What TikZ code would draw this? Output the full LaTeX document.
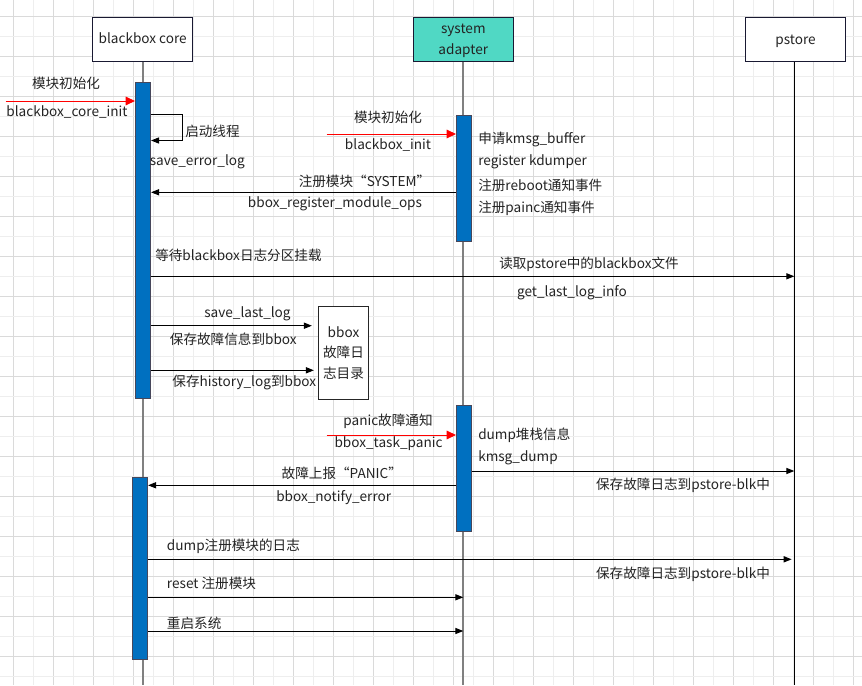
\documentclass[tikz,border=0pt]{standalone}
\usepackage{fontspec}
\setmainfont{Noto Sans CJK SC}
\usetikzlibrary{arrows.meta}
\definecolor{barblue}{RGB}{0,112,192}
\definecolor{adteal}{RGB}{80,216,196}
\definecolor{boxline}{RGB}{25,25,50}
\definecolor{txt}{RGB}{35,35,35}
\definecolor{gridminor}{RGB}{238,238,238}
\definecolor{gridmajor}{RGB}{218,218,218}
\definecolor{lifegray}{RGB}{128,128,128}
\tikzset{
  hdr/.style={draw=boxline, line width=0.9pt, minimum width=75pt, minimum height=33pt, inner sep=0pt, align=center},
  actbar/.style={draw=boxline!80, line width=0.6pt, fill=barblue, minimum width=11.5pt, inner sep=0pt},
  lbl/.style={inner sep=0pt, text=txt},
  life/.style={draw=lifegray, line width=1.5pt},
  msg/.style={draw=black, line width=0.75pt, -{Triangle[length=6pt,width=4.6pt]}},
  redmsg/.style={draw=red, line width=0.75pt, -{Triangle[length=7pt,width=6.5pt,fill=red]}},
}
\begin{document}
\begin{tikzpicture}[x=0.75pt, y=-0.75pt, font=\fontsize{10.2}{15.3}\selectfont]
\useasboundingbox (0,0) rectangle (862,685);
\fill[white] (0,0) rectangle (862,685);
% grid
\foreach \i in {0,...,42} {
  \pgfmathsetmacro{\gx}{13.5+20*\i}
  \pgfmathtruncatemacro{\odd}{mod(\i,2)}
  \ifnum\odd=0 \draw[gridmajor, line width=0.75pt] (\gx,0) -- (\gx,685);
  \else \draw[gridminor, line width=0.75pt] (\gx,0) -- (\gx,685); \fi
}
\foreach \i in {0,...,33} {
  \pgfmathsetmacro{\gy}{16.3+20*\i}
  \pgfmathtruncatemacro{\odd}{mod(\i,2)}
  \ifnum\odd=0 \draw[gridmajor, line width=0.75pt] (0,\gy) -- (862,\gy);
  \else \draw[gridminor, line width=0.75pt] (0,\gy) -- (862,\gy); \fi
}
\coordinate (bottom) at (0,685);
% headers
\node[hdr, fill=white, text=txt, text height=7.6pt, text depth=2pt] (core) at (142.7,39.3) {blackbox core};
\node[hdr, fill=adteal] (adapter) at (463.3,39.3) {};
\node[lbl, align=center, font=\fontsize{10.2}{15.6}\selectfont] (adapterlbl) at (463.3,41) {system\\adapter};
\node[hdr, fill=white] (pstore) at (795.5,39.3) {};
\node[lbl] (pstorelbl) at (795.5,41) {pstore};
% lifelines
\draw[life] (core.south) -- (core.south |- bottom);
\draw[life] (adapter.south) -- (adapter.south |- bottom);
\draw[black, line width=1.1pt] (pstore.south -| 794.3,0) -- (794.3,685);
\coordinate (adline) at (463.3,0);
\coordinate (psline) at (794.3,0);
% activation bars
\node[actbar, minimum height=237pt] (coreA) at (143,240) {};
\node[actbar, minimum height=136.5pt] (coreB) at (140,568.3) {};
\node[actbar, minimum height=94.9pt] (adA) at (464,178.3) {};
\node[actbar, minimum height=94.8pt] (adB) at (464,468.5) {};
% bbox directory box
\node[draw=black!85, line width=0.6pt, fill=white, minimum width=37.8pt, minimum height=69.5pt, inner sep=0pt, align=center, text=txt] (bbox) at (343.5,353) {bbox\\故障日\\志目录};

% m1 red init
\coordinate (m1s) at (5.5,101);
\draw[redmsg] (m1s) -- (m1s -| coreA.west);
\node[lbl] (m1a) at (66,83) {模块初始化};
\node[lbl] (m1b) at (67,112) {blackbox\_core\_init};
% self message
\coordinate (s1) at (182,114.5);
\coordinate (s2) at (182,140.5);
\draw[msg] (coreA.east |- s1) -- (s1) -- (s2) -- (coreA.east |- s2);
\node[lbl, anchor=west] (s1l) at (185,131) {启动线程};
\node[lbl, anchor=west] (s2l) at (149.5,161.5) {save\_error\_log};
% m2 red
\coordinate (m2s) at (326.7,134);
\draw[redmsg] (m2s) -- (m2s -| adA.west);
\node[lbl] (m2a) at (388,117) {模块初始化};
\node[lbl] (m2b) at (388,145) {blackbox\_init};
\node[lbl, anchor=west] (t1) at (478,139.7) {申请kmsg\_buffer};
\node[lbl, anchor=west] (t2) at (478,162) {register kdumper};
\node[lbl, anchor=west] (t3) at (478,185.7) {注册reboot通知事件};
\node[lbl, anchor=west] (t4) at (478,208) {注册painc通知事件};
% m3
\coordinate (m3) at (0,192.3);
\draw[msg] (adA.west |- m3) -- (coreA.east |- m3);
\node[lbl] (m3a) at (364.5,181) {注册模块“SYSTEM”};
\node[lbl] (m3b) at (335,204) {bbox\_register\_module\_ops};
% m4
\node[lbl, anchor=west] (m4t) at (155,255) {等待blackbox日志分区挂载};
\coordinate (m4) at (0,276.3);
\draw[msg] (coreA.east |- m4) -- (psline |- m4);
\node[lbl] (m4a) at (589,264.3) {读取pstore中的blackbox文件};
\node[lbl] (m4b) at (572,292.3) {get\_last\_log\_info};
% m5, m6
\coordinate (m5) at (0,325.7);
\draw[msg, shorten >=4.5pt] (coreA.east |- m5) -- (bbox.west |- m5);
\node[lbl] (m5a) at (247.5,313.3) {save\_last\_log};
\node[lbl] (m5b) at (233.3,339) {保存故障信息到bbox};
\coordinate (m6) at (0,370.3);
\draw[msg, shorten >=3pt] (coreA.east |- m6) -- (bbox.west |- m6);
\node[lbl] (m6b) at (244.3,382.3) {保存history\_log到bbox};
% m7 red panic
\coordinate (m7s) at (326.7,435);
\draw[redmsg] (m7s) -- (m7s -| adB.west);
\node[lbl] (m7a) at (388,421) {panic故障通知};
\node[lbl] (m7b) at (388.5,443.3) {bbox\_task\_panic};
\node[lbl, anchor=west] (t5) at (478,435) {dump堆栈信息};
\node[lbl, anchor=west] (t6) at (478,457.7) {kmsg\_dump};
% m8
\coordinate (m8) at (0,471);
\draw[msg] (adB.east |- m8) -- (psline |- m8);
\node[lbl] (m8b) at (683,485.7) {保存故障日志到pstore-blk中};
% m9
\coordinate (m9) at (0,485.3);
\draw[msg] (adB.west |- m9) -- (coreB.east |- m9);
\node[lbl] (m9a) at (341.8,473.3) {故障上报“PANIC”};
\node[lbl] (m9b) at (333.7,497.3) {bbox\_notify\_error};
% m10
\node[lbl, anchor=west] (m10t) at (166.7,546) {dump注册模块的日志};
\coordinate (m10) at (0,559.3);
\draw[msg, shorten >=2pt] (coreB.east |- m10) -- (psline |- m10);
\node[lbl] (m10b) at (683,574.3) {保存故障日志到pstore-blk中};
% m11
\node[lbl, anchor=west] (m11t) at (166.7,583.3) {reset 注册模块};
\coordinate (m11) at (0,597.3);
\draw[msg] (coreB.east |- m11) -- (adline |- m11);
% m12
\node[lbl, anchor=west] (m12t) at (166.7,623.3) {重启系统};
\coordinate (m12) at (0,631);
\draw[msg] (coreB.east |- m12) -- (adline |- m12);
\end{tikzpicture}
\end{document}
